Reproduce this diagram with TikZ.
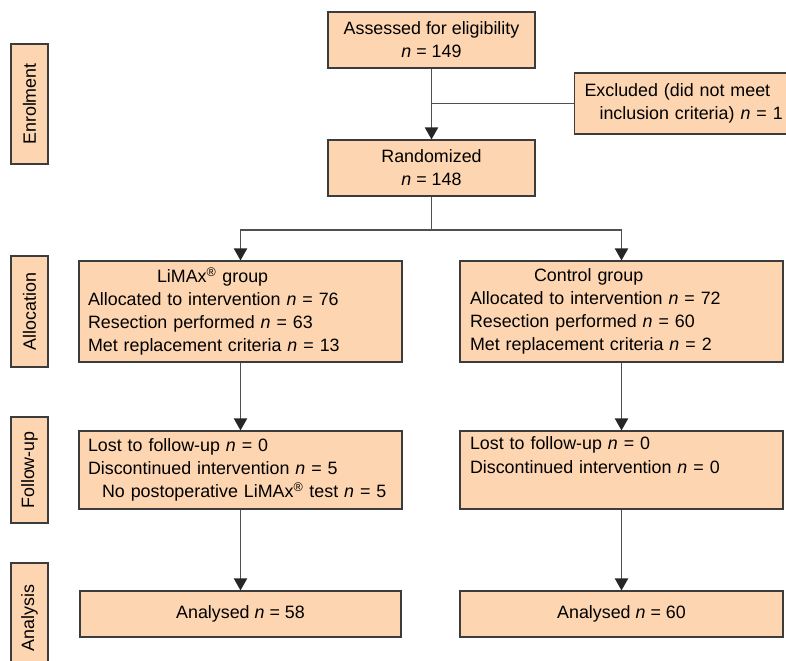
\documentclass[tikz,border=0pt]{standalone}
\usepackage{fontspec}
\setmainfont{Liberation Sans}
\usetikzlibrary{arrows.meta}

\definecolor{peach}{RGB}{253,213,176}
\definecolor{edge}{RGB}{60,60,60}
\definecolor{wire}{RGB}{80,80,80}

\newlength\pxu
\setlength\pxu{0.025cm}

\tikzset{
  box/.style={draw=edge, fill=peach, line width=0.8pt, inner sep=0pt,
    font=\fontsize{12.7}{16.4}\selectfont},
  stage/.style={box, rotate=90, minimum height=37\pxu},
  flow/.style={draw=wire, line width=0.9pt,
    -{Triangle[width=0.33cm, length=0.3cm, color=black!85]}},
  plain/.style={draw=wire, line width=0.9pt},
}

\begin{document}
\begin{tikzpicture}[x=\pxu, y=-\pxu]
\useasboundingbox (0,0) rectangle (786,660);
\clip (0,0) rectangle (786,660);

% stage labels
\node[stage, minimum width=120\pxu] (enrol) at (29.5,104) {Enrolment};
\node[stage, minimum width=111\pxu] (alloc) at (29.5,311.5) {Allocation};
\node[stage, minimum width=106\pxu] (follow) at (29.5,470) {Follow-up};
\node[stage, minimum width=110\pxu] (analysis) at (29.5,618) {Analysis};

% enrolment
\node[box, minimum width=207\pxu, minimum height=56\pxu, align=center]
  (assessed) at (431.5,40) {Assessed for eligibility\\\textit{n} = 149};
\node[box, anchor=west, minimum height=61\pxu, text width=260\pxu,
  align=left, inner xsep=10\pxu]
  (excluded) at (574,103.5) {Excluded (did not meet\\\hspace*{15\pxu}inclusion criteria) \textit{n} = 1};
\node[box, minimum width=207\pxu, minimum height=56\pxu, align=center]
  (random) at (431.5,168) {Randomized\\\textit{n} = 148};

% allocation
\node[box, minimum height=101\pxu, text width=305\pxu, align=left,
  inner xsep=9\pxu]
  (limax) at (240.5,311.5) {\hspace*{69\pxu}LiMAx\textsuperscript{®} group\\
    Allocated to intervention \textit{n} = 76\\
    Resection performed \textit{n} = 63\\
    Met replacement criteria \textit{n} = 13};
\node[box, minimum height=101\pxu, text width=303\pxu, align=left,
  inner xsep=10\pxu]
  (control) at (621.5,311.5) {\hspace*{64\pxu}Control group\\
    Allocated to intervention \textit{n} = 72\\
    Resection performed \textit{n} = 60\\
    Met replacement criteria \textit{n} = 2};

% follow-up
\node[box, minimum height=78\pxu, text width=305\pxu, align=left,
  inner xsep=9\pxu]
  (limaxfu) at (240.5,470) {Lost to follow-up \textit{n} = 0\\
    Discontinued intervention \textit{n} = 5\\
    \mbox{\hspace*{14\pxu}No postoperative LiMAx\textsuperscript{®} test \textit{n} = 5}};
\node[box, minimum height=78\pxu, text width=303\pxu, align=left,
  inner xsep=10\pxu]
  (controlfu) at (621.5,470) {Lost to follow-up \textit{n} = 0\\
    Discontinued intervention \textit{n} = 0\\
    \strut};

% analysis
\node[box, minimum width=321\pxu, minimum height=46\pxu]
  (limaxan) at (240.5,614) {Analysed \textit{n} = 58};
\node[box, minimum width=323\pxu, minimum height=46\pxu]
  (controlan) at (621.5,614) {Analysed \textit{n} = 60};

% connectors
\coordinate (split) at (431.5,230);
\draw[flow] (assessed) -- (random);
\draw[plain] (assessed.south |- excluded.west) -- (excluded.west);
\draw[plain] (random) -- (split);
\draw[flow] (split) -| (limax.north);
\draw[flow] (split) -| (control.north);
\draw[flow] (limax) -- (limaxfu);
\draw[flow] (control) -- (controlfu);
\draw[flow] (limaxfu) -- (limaxan);
\draw[flow] (controlfu) -- (controlan);
\end{tikzpicture}
\end{document}
